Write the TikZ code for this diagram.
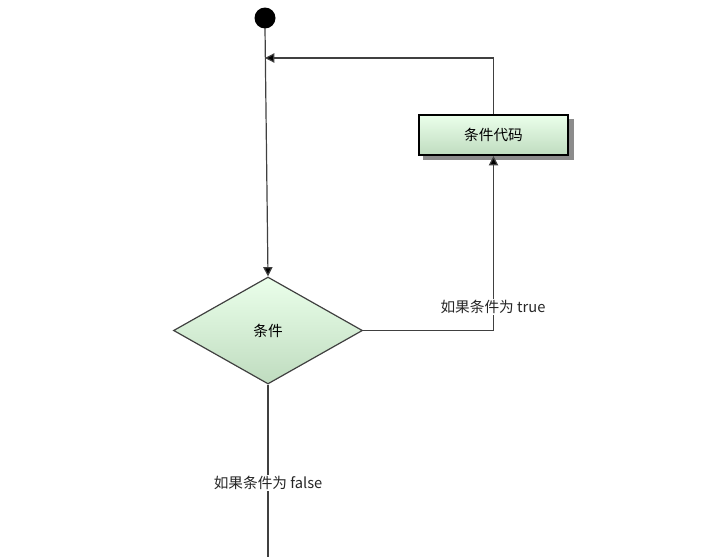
\documentclass[tikz,border=0pt]{standalone}
\usepackage{fontspec}
\setmainfont{Liberation Sans}
\newfontfamily\cjk{Noto Sans CJK SC}
\usetikzlibrary{arrows.meta,shapes.geometric}
\begin{document}
\begin{tikzpicture}[x=0.75pt,y=-0.75pt,font=\cjk\fontsize{11}{13}\selectfont,
  conn/.style={draw=black!75,line width=0.9pt,-{Triangle[length=7pt,width=7pt,fill=black]}},
  plain/.style={draw=black!75,line width=0.9pt},
  lbl/.style={fill=white,inner sep=1pt,text=black!85},
  grfill/.style={top color=green!8!white,bottom color=green!45!black!25!white}]
\useasboundingbox (0,0) rectangle (704,557);
\fill (265,18) circle (10.5);
\coordinate (start) at (265,28);
\coordinate (join) at (265,58);
\fill[black!45] (423,119) rectangle (574,160);
\node (code) [draw=black,line width=1.6pt,grfill,minimum width=112pt,minimum height=30pt,inner sep=0pt] at (493.5,135) {条件代码};
\node (cond) [diamond,draw=black!75,line width=0.9pt,grfill,minimum width=141.75pt,minimum height=80.25pt,aspect=1.77,inner sep=0pt] at (268,330.5) {条件};
\coordinate (endpt) at (268,557);
\draw[conn] (start) -- (cond.north);
\draw[conn] (code.north) |- (join);
\draw[conn] (cond.east) -| (code.south);
\node[lbl] at (493,307) {如果条件为 true};
\draw[plain] (cond.south) -- (endpt);
\node[lbl] at (268,483) {如果条件为 false};
\end{tikzpicture}
\end{document}
